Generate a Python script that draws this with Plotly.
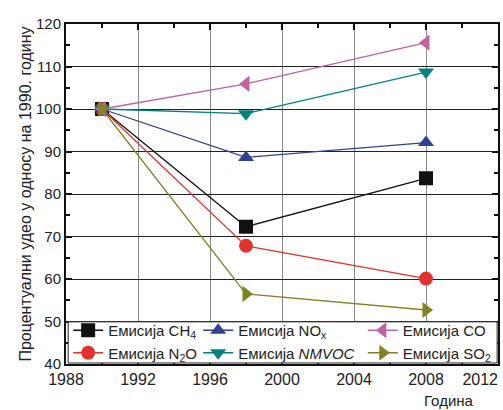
import plotly.graph_objects as go

years = [1990, 1998, 2008]
ch4 = [100, 72.3, 83.7]
nox = [100, 88.6, 92.1]
co = [100, 105.9, 115.6]
n2o = [100, 67.8, 60.1]
nmvoc = [100, 98.9, 108.7]
so2 = [100, 56.5, 52.7]
xtick_vals = [1988, 1992, 1996, 2000, 2004, 2008, 2012]
xtick_text = ["1988", "1992", "1996", "2000", "2004", "2008", "2012" + "\u00a0" * 8]

# (name, values, colour, symbol, legend id)
series = [
    ("Емисија CH<sub>4</sub>", ch4, "#111111", "square", "legend"),
    ("Емисија N<sub>2</sub>O", n2o, "#e2322e", "circle", "legend"),
    ("Емисија NO<sub>x</sub>", nox, "#2f4191", "triangle-up", "legend2"),
    ("Емисија <i>NMVOC</i>", nmvoc, "#00827f", "triangle-down", "legend2"),
    ("Емисија CO", co, "#bf63a3", "triangle-left", "legend3"),
    ("Емисија SO<sub>2</sub>", so2, "#828224", "triangle-right", "legend3"),
]

fig = go.Figure()
for name, vals, color, sym, leg in series:
    fig.add_trace(go.Scatter(
        x=years, y=vals, name=name, mode="lines+markers", legend=leg,
        line=dict(color=color, width=1.3),
        marker=dict(symbol=sym, size=14, color=color),
    ))

leg_common = dict(
    orientation="v", yanchor="top", xanchor="left", y=0.147,
    bgcolor="rgba(0,0,0,0)", borderwidth=0, tracegroupgap=0,
    font=dict(size=15), itemwidth=30,
)
fig.update_layout(
    width=503, height=410,
    margin=dict(l=66, r=5, t=24, b=46),
    paper_bgcolor="white", plot_bgcolor="white",
    font=dict(family="Liberation Sans, Arial, sans-serif", size=14, color="#222"),
    showlegend=True,
    legend=dict(x=0.005, **leg_common),
    legend2=dict(x=0.306, **leg_common),
    legend3=dict(x=0.687, **leg_common),
)
# white framed box behind the three legend columns
fig.add_shape(
    type="rect", xref="paper", yref="paper", x0=0.005, x1=0.998, y0=0.003, y1=0.124,
    line=dict(color="#222", width=1), fillcolor="white", layer="above",
)
fig.update_xaxes(
    range=[1988, 2012], tickvals=xtick_vals, ticktext=xtick_text,
    showgrid=True, gridcolor="#888", gridwidth=1,
    showline=True, linecolor="#111", linewidth=2, mirror="ticks",
    ticks="inside", ticklen=6, tickwidth=1.5, tickcolor="#111",
    minor=dict(dtick=2, ticks="inside", ticklen=4, tickcolor="#111", showgrid=False),
    zeroline=False, tickfont=dict(size=16), automargin=False, ticklabeloverflow="allow",
)
fig.update_yaxes(
    range=[40, 120], dtick=10,
    showgrid=True, gridcolor="#222", gridwidth=1,
    showline=True, linecolor="#111", linewidth=2, mirror="ticks",
    ticks="inside", ticklen=6, tickwidth=1.5, tickcolor="#111",
    minor=dict(dtick=5, ticks="inside", ticklen=4, tickcolor="#111", showgrid=False),
    zeroline=False, tickfont=dict(size=15), automargin=False,
    title=dict(text="Процентуални удео у односу на 1990. годину", font=dict(size=16), standoff=0),
)
fig.add_annotation(
    text="Година", xref="paper", yref="paper", x=0.887, y=-0.106,
    xanchor="center", yanchor="middle", showarrow=False, font=dict(size=15),
)
fig.write_html("out.html", config={"displayModeBar": False})

with open("out.html", "r", encoding="utf-8") as f:
    html = f.read()
html = html.replace("<head>", "<head><style>html,body{margin:0;padding:0;overflow:hidden;}</style>", 1)
with open("out.html", "w", encoding="utf-8") as f:
    f.write(html)
